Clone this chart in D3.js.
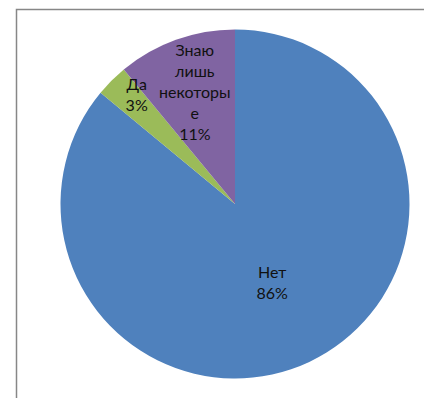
<!DOCTYPE html>
<html><head><meta charset="utf-8">
<script src="https://cdn.jsdelivr.net/npm/d3@7"></script>
<style>html,body{margin:0;padding:0;background:#fff;}svg{display:block;}</style>
</head><body>
<svg id="chart" width="424" height="398"></svg>
<script>
const categories = ["Нет", "Да", "Знаю лишь некоторые"];
const values = [86, 3, 11];
const colors = ["#4F81BD", "#9BBB59", "#8064A2"];

const W = 424, H = 398;
const cx = 235, cy = 204, R = 174.5;
const labelFactor = [0.5, 0.84, 0.68];
const labelAngleShift = [0, 0.05, 0];
const fontSize = 16, lineH = 21, wrapWidth = 75;

const svg = d3.select("#chart");
svg.append("rect").attr("x", 0).attr("y", 0).attr("width", W).attr("height", H).attr("fill", "#fff");
// chart border
svg.append("path").attr("d", `M16.5,${H+2} V9.5 H${W+2}`).attr("fill", "none")
  .attr("stroke", "#878787").attr("stroke-width", 1.5);

const pie = d3.pie().sort(null).value(d => d);
const arcs = pie(values);
const arc = d3.arc().innerRadius(0).outerRadius(R);
const g = svg.append("g").attr("transform", `translate(${cx},${cy})`);
g.selectAll("path.slice").data(arcs).enter().append("path")
  .attr("class", "slice")
  .attr("d", arc)
  .attr("fill", (d, i) => colors[i]);

const total = d3.sum(values);
function wrapWords(text, textEl) {
  const words = text.split(" ");
  const lines = [];
  let cur = "";
  const measure = s => { textEl.text(s); return textEl.node().getComputedTextLength(); };
  words.forEach(w => {
    const trial = cur ? cur + " " + w : w;
    if (measure(trial) <= wrapWidth) { cur = trial; return; }
    if (cur) { lines.push(cur); cur = ""; }
    if (measure(w) <= wrapWidth) { cur = w; return; }
    let part = "";
    for (const ch of w) {
      if (measure(part + ch) <= wrapWidth) part += ch;
      else { lines.push(part); part = ch; }
    }
    cur = part;
  });
  if (cur) lines.push(cur);
  return lines;
}

arcs.forEach((d, i) => {
  const mid = (d.startAngle + d.endAngle) / 2 + labelAngleShift[i];
  const r = R * labelFactor[i];
  const x = Math.sin(mid) * r, y = -Math.cos(mid) * r;
  const t = g.append("text")
    .attr("font-family", "Lato, 'Open Sans', sans-serif")
    .attr("font-size", fontSize)
    .attr("fill", "#111")
    .attr("text-anchor", "middle");
  const lines = wrapWords(categories[i], t);
  lines.push(Math.round(values[i] / total * 100) + "%");
  t.text(null);
  const y0 = y - (lines.length - 1) * lineH / 2;
  lines.forEach((ln, k) => {
    t.append("tspan").attr("x", x).attr("y", y0 + k * lineH).attr("dy", "0.35em").text(ln);
  });
});
</script>
</body></html>
